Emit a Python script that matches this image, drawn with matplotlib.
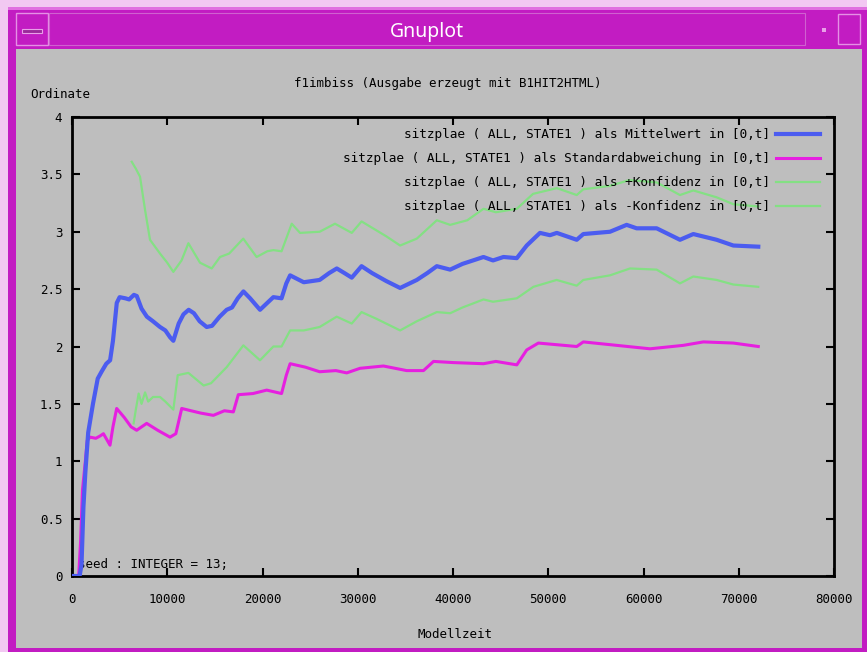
import matplotlib
matplotlib.use("Agg")
import matplotlib.pyplot as plt
from matplotlib.patches import Rectangle

W, H = 867, 652

# ---------------- data ----------------
mean_x = [0, 800, 1000, 1200, 1400, 1700, 2200, 2700, 3100, 3600, 4000, 4300, 4700, 5000, 5600, 6000,
          6500, 6800, 7300, 7860, 8500, 9240, 9800, 10300, 10640, 11200, 11700, 12250, 12800, 13400,
          14140, 14700, 15500, 16240, 16800, 17400, 18000, 18700, 19740, 20500, 21140, 22000, 22500,
          22900, 24330, 26000, 27000, 27800, 28600, 29370, 30400, 31500, 33000, 34450, 36200, 37300,
          38300, 39700, 41000, 43200, 44200, 45300, 46700, 47740, 49130, 50180, 50900, 52990, 53680,
          56480, 58230, 59280, 61380, 63830, 65230, 67680, 69430, 72050]
mean_y = [0, 0, 0.1, 0.6, 0.9, 1.25, 1.5, 1.72, 1.78, 1.85, 1.88, 2.05, 2.38, 2.43, 2.42, 2.41,
          2.45, 2.44, 2.33, 2.26, 2.22, 2.17, 2.14, 2.08, 2.05, 2.20, 2.28, 2.32, 2.29, 2.22,
          2.17, 2.18, 2.26, 2.32, 2.34, 2.42, 2.48, 2.42, 2.32, 2.38, 2.43, 2.42, 2.55,
          2.62, 2.56, 2.58, 2.64, 2.68, 2.64, 2.60, 2.70, 2.64, 2.57, 2.51, 2.58, 2.64,
          2.70, 2.67, 2.72, 2.78, 2.75, 2.78, 2.77, 2.88, 2.99, 2.97, 2.99, 2.93, 2.98,
          3.00, 3.06, 3.03, 3.03, 2.93, 2.98, 2.93, 2.88, 2.87]

std_x = [0, 700, 900, 1100, 1400, 1600, 1900, 2500, 2940, 3300, 3990, 4300, 4690, 5500, 6200, 6790,
         7840, 9000, 10290, 10900, 11520, 12500, 13500, 14840, 16000, 16940, 17460, 19000, 20440,
         22000, 22500, 22900, 24500, 26000, 27700, 28840, 30240, 32700, 35140, 36900, 37950, 40000,
         43200, 44500, 46700, 47740, 48960, 52990, 53680, 57180, 60680, 64180, 66280, 69430, 72050]
std_y = [0, 0, 0.3, 0.75, 1.0, 1.18, 1.21, 1.20, 1.22, 1.24, 1.14, 1.30, 1.46, 1.38, 1.30, 1.27,
         1.33, 1.27, 1.21, 1.24, 1.46, 1.44, 1.42, 1.40, 1.44, 1.43, 1.58, 1.59, 1.62,
         1.59, 1.75, 1.85, 1.82, 1.78, 1.79, 1.77, 1.81, 1.83, 1.79, 1.79, 1.87, 1.86,
         1.85, 1.87, 1.84, 1.97, 2.03, 2.00, 2.04, 2.01, 1.98, 2.01, 2.04, 2.03, 2.00]

upper_x = [6270, 6700, 7140, 7670, 8190, 9240, 10000, 10640, 11500, 12220, 13440, 14670, 15540, 16500,
           17980, 19380, 20500, 21140, 22000, 23070, 23940, 26000, 27610, 29370, 30400, 32000, 33000,
           34450, 36200, 38300, 39700, 41500, 43200, 44500, 46700, 48400, 50900, 52990, 53680, 56480,
           58500, 61380, 63830, 65230, 67680, 69430, 72050]
upper_y = [3.61, 3.55, 3.48, 3.19, 2.93, 2.81, 2.73, 2.65, 2.75, 2.90, 2.73, 2.68, 2.78, 2.81,
           2.94, 2.78, 2.83, 2.84, 2.83, 3.07, 2.99, 3.00, 3.07, 2.99, 3.09, 3.01, 2.96,
           2.88, 2.94, 3.10, 3.06, 3.10, 3.20, 3.17, 3.20, 3.33, 3.38, 3.32, 3.37, 3.40,
           3.45, 3.43, 3.32, 3.36, 3.30, 3.24, 3.22]

lower_x = [6470, 6700, 7000, 7300, 7670, 8000, 8500, 9240, 9800, 10640, 11100, 12220, 13820, 14600,
           16240, 17990, 19740, 21140, 22000, 22900, 24330, 26000, 27790, 29370, 30400, 32000, 34450,
           36200, 38300, 39700, 41000, 43200, 44200, 46700, 48440, 50880, 52990, 53680, 56480, 58580,
           61380, 63830, 65230, 67680, 69430, 72050]
lower_y = [1.33, 1.45, 1.59, 1.50, 1.60, 1.52, 1.56, 1.56, 1.52, 1.45, 1.75, 1.77, 1.66, 1.68,
           1.82, 2.01, 1.88, 2.00, 2.00, 2.14, 2.14, 2.17, 2.26, 2.20, 2.30, 2.24, 2.14,
           2.22, 2.30, 2.29, 2.34, 2.41, 2.39, 2.42, 2.52, 2.58, 2.53, 2.58, 2.62, 2.68,
           2.67, 2.55, 2.61, 2.58, 2.54, 2.52]

labels = ["sitzplae ( ALL, STATE1 ) als Mittelwert in [0,t]",
          "sitzplae ( ALL, STATE1 ) als Standardabweichung in [0,t]",
          "sitzplae ( ALL, STATE1 ) als +Konfidenz in [0,t]",
          "sitzplae ( ALL, STATE1 ) als -Konfidenz in [0,t]"]
x_ticks = [0, 10000, 20000, 30000, 40000, 50000, 60000, 70000, 80000]
y_ticks = [0, 0.5, 1, 1.5, 2, 2.5, 3, 3.5, 4]
y_ticklabels = ["0", "0.5", "1", "1.5", "2", "2.5", "3", "3.5", "4"]

# ---------------- figure / window ----------------
MONO = "DejaVu Sans Mono"
GRAY = "#bebebe"
MAG = "#c21cc2"

fig = plt.figure(figsize=(W / 100, H / 100), dpi=100)
fig.patch.set_facecolor("#f2c8f2")


def rect(x, y, w, h, **kw):
    fig.add_artist(Rectangle((x / W, 1 - (y + h) / H), w / W, h / H,
                             transform=fig.transFigure, zorder=-5, **kw))


# window frame
rect(8, 7, W - 8, H - 7, facecolor=MAG, edgecolor="none")
rect(8, 7, W - 8, 3, facecolor="#e070e0", edgecolor="none")
# title bar details
rect(16, 13, 32, 32, facecolor="none", edgecolor="#e590e5", lw=1)
rect(22, 29, 20, 4, facecolor="#9a2a9a", edgecolor="#e8a0e8", lw=0.8)
rect(49, 13, 756, 32, facecolor="none", edgecolor="#d060d0", lw=0.8)
rect(822, 28, 4, 4, facecolor="#e8a0e8", edgecolor="none")
rect(838, 14, 22, 30, facecolor="none", edgecolor="#e590e5", lw=1)
fig.text(427 / W, 1 - 32 / H, "Gnuplot", color="white", fontsize=14,
         family="Noto Sans", ha="center", va="center")
# gray client area
rect(16, 49, 846, 599, facecolor=GRAY, edgecolor="none")

# ---------------- axes ----------------
ax_l, ax_r, ax_t, ax_b = 72, 834, 117, 576
ax = fig.add_axes([ax_l / W, 1 - ax_b / H, (ax_r - ax_l) / W, (ax_b - ax_t) / H])
ax.set_zorder(1)
ax.set_facecolor(GRAY)

ax.plot(mean_x, mean_y, color="#4b5cf0", lw=3.0, label=labels[0], zorder=4)
ax.plot(std_x, std_y, color="#e61fe0", lw=2.2, label=labels[1], zorder=3)
ax.plot(upper_x, upper_y, color="#84e084", lw=1.6, label=labels[2], zorder=2)
ax.plot(lower_x, lower_y, color="#84e084", lw=1.6, label=labels[3], zorder=2)

ax.set_xlim(0, 80000)
ax.set_ylim(0, 4)
ax.set_xticks(x_ticks)
ax.set_xticklabels([str(v) for v in x_ticks])
ax.set_yticks(y_ticks)
ax.set_yticklabels(y_ticklabels)
ax.tick_params(direction="in", length=6, width=1.5, top=True, right=True,
               labelsize=9, colors="black")
ax.tick_params(axis="x", pad=12)
ax.tick_params(axis="y", pad=7)
for lab in ax.get_xticklabels() + ax.get_yticklabels():
    lab.set_family(MONO)
for s in ax.spines.values():
    s.set_linewidth(2)
    s.set_color("black")

leg = ax.legend(loc="upper right", bbox_to_anchor=(0.982, 0.975), frameon=False,
                markerfirst=False, prop={"family": MONO, "size": 9.2},
                handlelength=3.5, handletextpad=0.45, labelspacing=0.85,
                borderaxespad=0, borderpad=0)

ax.text(6 / 762, 12 / 459, "seed : INTEGER = 13;", transform=ax.transAxes,
        family=MONO, fontsize=9, ha="left", va="center", zorder=1)

# labels
fig.text(448 / W, 1 - 84 / H, "f1imbiss (Ausgabe erzeugt mit B1HIT2HTML)",
         family=MONO, fontsize=9, ha="center", va="center")
fig.text(30 / W, 1 - 95 / H, "Ordinate", family=MONO, fontsize=9,
         ha="left", va="center")
fig.text(455 / W, 1 - 635 / H, "Modellzeit", family=MONO, fontsize=9,
         ha="center", va="center")

fig.savefig("out.png", dpi=100, facecolor=fig.get_facecolor())
